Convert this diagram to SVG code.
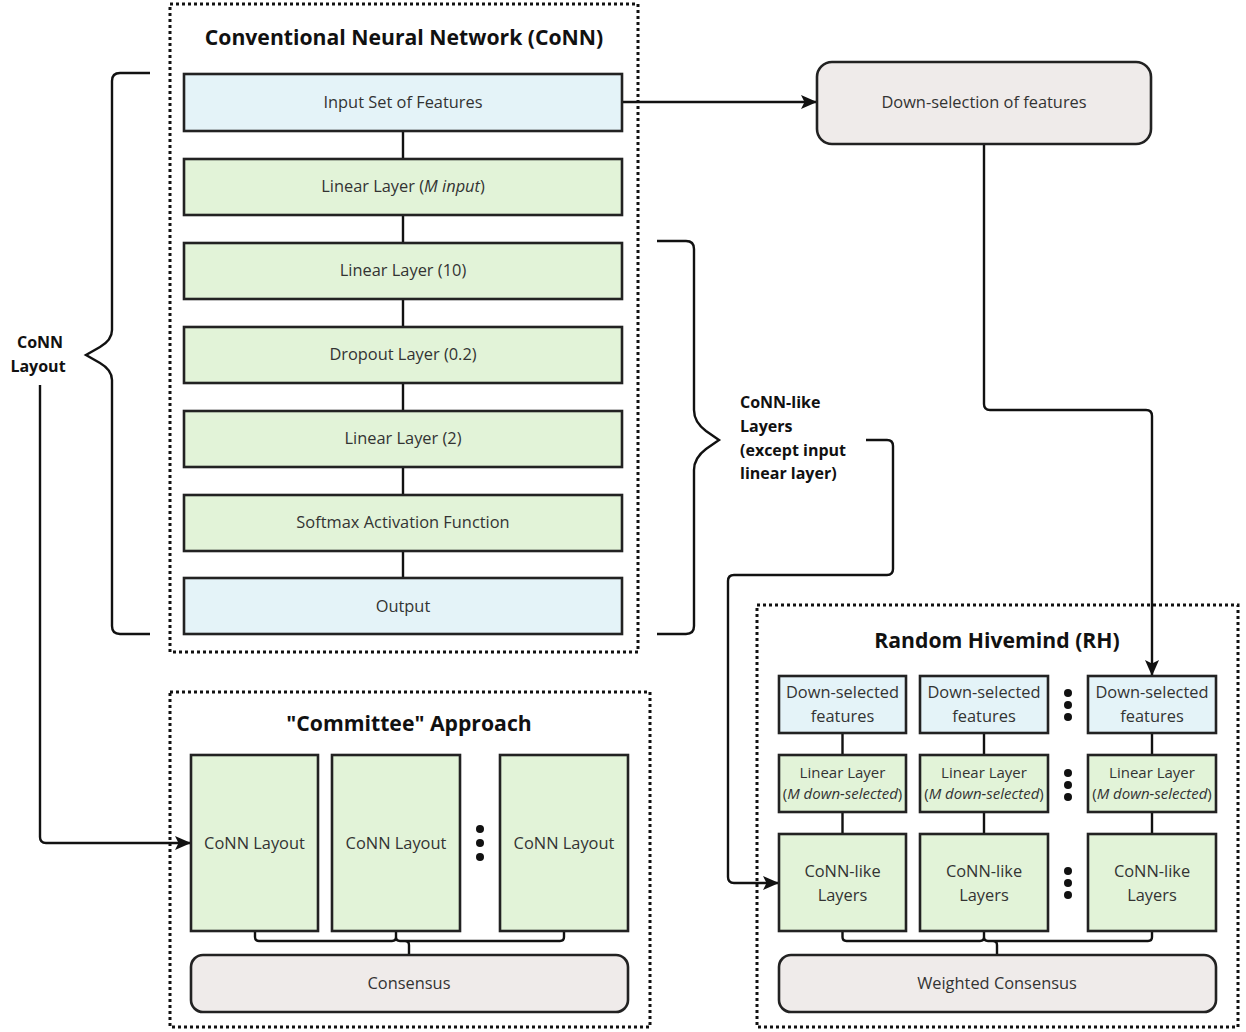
<svg xmlns="http://www.w3.org/2000/svg" width="1246" height="1032" viewBox="0 0 1246 1032">
<defs>
<style>
text{font-family:"Open Sans","Noto Sans","Liberation Sans",sans-serif;fill:#333;}
.t{font-size:16.4px;text-anchor:middle;}
.s{font-size:15px;text-anchor:middle;}
.h{font-size:21.2px;font-weight:700;text-anchor:middle;fill:#111;}
.b{font-size:16px;font-weight:700;fill:#111;}
.blue{fill:#e4f3f8;stroke:#222;stroke-width:2.6;}
.green{fill:#e2f3d8;stroke:#222;stroke-width:2.6;}
.gray{fill:#efebea;stroke:#222;stroke-width:2.6;}
.dot{fill:none;stroke:#111;stroke-width:3;stroke-dasharray:3 3;}
.ln{fill:none;stroke:#111;stroke-width:2.4;}
</style>
<marker id="ar" markerWidth="16" markerHeight="16" refX="15" refY="8" orient="auto" markerUnits="userSpaceOnUse" viewBox="0 0 16 16">
<path d="M0,1 L16,8 L0,15 L3.5,8 Z" fill="#111"/>
</marker>
</defs>
<rect width="1246" height="1032" fill="#fff"/>

<!-- containers -->
<g id="conn-container">
<rect class="dot" x="170" y="4" width="468" height="648"/>
<text class="h" x="404" y="45">Conventional Neural Network (CoNN)</text>
</g>
<g id="committee-container">
<rect class="dot" x="170" y="692" width="480" height="335"/>
<text class="h" x="409" y="731">"Committee" Approach</text>
</g>
<g id="rh-container">
<rect class="dot" x="757" y="605" width="481" height="422"/>
<text class="h" x="997" y="648">Random Hivemind (RH)</text>
</g>

<!-- connectors -->
<g id="connectors">
<path class="ln" d="M403,131V159M403,215V243M403,299V327M403,383V411M403,467V495M403,551V578"/>
<path class="ln" d="M622,102H816" marker-end="url(#ar)"/>
<path class="ln" d="M984,144V404Q984,410 990,410H1146Q1152,410 1152,416V675" marker-end="url(#ar)"/>
<path class="ln" d="M40,385V837Q40,843 46,843H190" marker-end="url(#ar)"/>
<path class="ln" d="M866,440H887Q893,440 893,446V569Q893,575 887,575H734Q728,575 728,581V877Q728,883 734,883H778" marker-end="url(#ar)"/>
<!-- braces -->
<path class="ln" d="M150,73H120Q112,73 112,81V330Q112,340 100,347L86,355L100,363Q112,370 112,380V626Q112,634 120,634H150"/>
<path class="ln" d="M657,241H686Q694,241 694,249V410Q694,422 706,431L719,440L706,449Q694,458 694,470V626Q694,634 686,634H657"/>
<!-- committee merges -->
<path class="ln" d="M255,931V937Q255,941 259,941H392Q396,941 396,937V931M396,937Q396,941 400,941H560Q564,941 564,937V931M405,941Q409,941 409,945V955"/>
<!-- RH verticals -->
<path class="ln" d="M842.5,733V755M984,733V755M1152,733V755M842.5,812V834M984,812V834M1152,812V834"/>
<path class="ln" d="M842.5,931V937Q842.5,941 846.5,941H980Q984,941 984,937V931M984,937Q984,941 988,941H1148Q1152,941 1152,937V931M993,941Q997,941 997,945V955"/>
</g>

<!-- CoNN nodes -->
<g id="input-features"><rect class="blue" x="184" y="74" width="438" height="57"/><text class="t" x="403" y="108">Input Set of Features</text></g>
<g id="linear-m"><rect class="green" x="184" y="159" width="438" height="56"/><text class="t" x="403" y="192">Linear Layer (<tspan font-style="italic">M input</tspan>)</text></g>
<g id="linear-10"><rect class="green" x="184" y="243" width="438" height="56"/><text class="t" x="403" y="276">Linear Layer (10)</text></g>
<g id="dropout"><rect class="green" x="184" y="327" width="438" height="56"/><text class="t" x="403" y="360">Dropout Layer (0.2)</text></g>
<g id="linear-2"><rect class="green" x="184" y="411" width="438" height="56"/><text class="t" x="403" y="444">Linear Layer (2)</text></g>
<g id="softmax"><rect class="green" x="184" y="495" width="438" height="56"/><text class="t" x="403" y="528">Softmax Activation Function</text></g>
<g id="output"><rect class="blue" x="184" y="578" width="438" height="56"/><text class="t" x="403" y="612">Output</text></g>

<g id="conn-layout-label"><text class="b" text-anchor="middle" x="40" y="348">CoNN</text><text class="b" text-anchor="middle" x="38" y="372">Layout</text></g>
<g id="conn-like-label"><text class="b" x="740" y="408">CoNN-like</text><text class="b" x="740" y="432">Layers</text><text class="b" x="740" y="456">(except input</text><text class="b" x="740" y="479">linear layer)</text></g>

<g id="down-selection"><rect class="gray" x="817" y="62" width="334" height="82" rx="15"/><text class="t" x="984" y="108">Down-selection of features</text></g>

<!-- Committee -->
<g id="committee-1"><rect class="green" x="191" y="755" width="127" height="176"/><text class="t" x="254.5" y="849">CoNN Layout</text></g>
<g id="committee-2"><rect class="green" x="332" y="755" width="128" height="176"/><text class="t" x="396" y="849">CoNN Layout</text></g>
<g id="committee-3"><rect class="green" x="500" y="755" width="128" height="176"/><text class="t" x="564" y="849">CoNN Layout</text></g>
<g id="committee-dots" fill="#111"><circle cx="480" cy="829" r="4"/><circle cx="480" cy="843" r="4"/><circle cx="480" cy="857" r="4"/></g>
<g id="consensus"><rect class="gray" x="191" y="955" width="437" height="57" rx="12"/><text class="t" x="409" y="989">Consensus</text></g>

<!-- RH -->
<g id="rh-ds-1"><rect class="blue" x="779" y="676" width="127" height="57"/><text class="t" x="842.5" y="698">Down-selected</text><text class="t" x="842.5" y="722">features</text></g>
<g id="rh-ds-2"><rect class="blue" x="920" y="676" width="128" height="57"/><text class="t" x="984" y="698">Down-selected</text><text class="t" x="984" y="722">features</text></g>
<g id="rh-ds-3"><rect class="blue" x="1088" y="676" width="128" height="57"/><text class="t" x="1152" y="698">Down-selected</text><text class="t" x="1152" y="722">features</text></g>
<g id="rh-lin-1"><rect class="green" x="779" y="755" width="127" height="57"/><text class="s" x="842.5" y="778">Linear Layer</text><text class="s" x="842.5" y="799">(<tspan font-style="italic">M down-selected</tspan>)</text></g>
<g id="rh-lin-2"><rect class="green" x="920" y="755" width="128" height="57"/><text class="s" x="984" y="778">Linear Layer</text><text class="s" x="984" y="799">(<tspan font-style="italic">M down-selected</tspan>)</text></g>
<g id="rh-lin-3"><rect class="green" x="1088" y="755" width="128" height="57"/><text class="s" x="1152" y="778">Linear Layer</text><text class="s" x="1152" y="799">(<tspan font-style="italic">M down-selected</tspan>)</text></g>
<g id="rh-cl-1"><rect class="green" x="779" y="834" width="127" height="97"/><text class="t" x="842.5" y="877">CoNN-like</text><text class="t" x="842.5" y="901">Layers</text></g>
<g id="rh-cl-2"><rect class="green" x="920" y="834" width="128" height="97"/><text class="t" x="984" y="877">CoNN-like</text><text class="t" x="984" y="901">Layers</text></g>
<g id="rh-cl-3"><rect class="green" x="1088" y="834" width="128" height="97"/><text class="t" x="1152" y="877">CoNN-like</text><text class="t" x="1152" y="901">Layers</text></g>
<g id="rh-dots" fill="#111">
<circle cx="1068" cy="693" r="4"/><circle cx="1068" cy="705" r="4"/><circle cx="1068" cy="717" r="4"/>
<circle cx="1068" cy="773" r="4"/><circle cx="1068" cy="785" r="4"/><circle cx="1068" cy="797" r="4"/>
<circle cx="1068" cy="871" r="4"/><circle cx="1068" cy="883" r="4"/><circle cx="1068" cy="895" r="4"/>
</g>
<g id="weighted-consensus"><rect class="gray" x="779" y="955" width="437" height="57" rx="12"/><text class="t" x="997" y="989">Weighted Consensus</text></g>
</svg>
